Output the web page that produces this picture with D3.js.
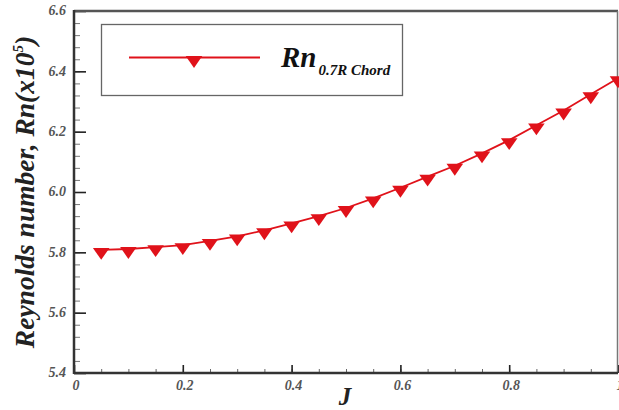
<!DOCTYPE html>
<html>
<head>
<meta charset="utf-8">
<script src="https://cdn.jsdelivr.net/npm/d3@7"></script>
<style>
  body { margin: 0; background: #fff; }
</style>
</head>
<body>
<div id="svgContainer"></div>
<script>
// advance ratio J and Reynolds number at 0.7R chord (x10^5)
var advanceRatio = [0.05, 0.10, 0.15, 0.20, 0.25, 0.30, 0.35, 0.40, 0.45, 0.50,
                    0.55, 0.60, 0.65, 0.70, 0.75, 0.80, 0.85, 0.90, 0.95, 1.00];
var reynolds = [5.808, 5.811, 5.817, 5.824, 5.838, 5.853, 5.873, 5.896, 5.920, 5.947,
                5.979, 6.014, 6.051, 6.087, 6.128, 6.172, 6.221, 6.270, 6.324, 6.377];
var xTicks = [0, 0.2, 0.4, 0.6, 0.8, 1];
var xTickLabels = ["0", "0.2", "0.4", "0.6", "0.8", "1"];
var yTicks = [5.4, 5.6, 5.8, 6.0, 6.2, 6.4, 6.6];
var yTickLabels = ["5.4", "5.6", "5.8", "6.0", "6.2", "6.4", "6.6"];

var width = 619;
var height = 410;
var margin = {left: 74, top: 11, right: 1, bottom: 37};
var serif = "'Liberation Serif', 'Times New Roman', Times, serif";

var svg = d3.select("#svgContainer")
  .append("svg").attr("width", width).attr("height", height)
  .attr("font-family", serif).attr("font-style", "italic").attr("font-weight", "bold");

var x = d3.scaleLinear().domain([0, 1]).range([margin.left, width - margin.right]);
var y = d3.scaleLinear().domain([5.4, 6.6]).range([height - margin.bottom, margin.top]);

var red = "#e0121a";

// minor ticks (inward)
var xMinor = d3.range(0, 1.0001, 0.05);
var yMinor = d3.range(5.4, 6.6001, 0.04);

svg.append("g")
  .attr("transform", "translate(0," + y(5.4) + ")")
  .call(d3.axisTop(x).tickValues(xMinor).tickSize(4).tickFormat(""))
  .call(function(g) { g.select(".domain").remove(); g.selectAll("line").attr("stroke", "#666").attr("stroke-width", 1); });

svg.append("g")
  .attr("transform", "translate(" + x(0) + ",0)")
  .call(d3.axisRight(y).tickValues(yMinor).tickSize(6).tickFormat(""))
  .call(function(g) { g.select(".domain").remove(); g.selectAll("line").attr("stroke", "#777").attr("stroke-width", 1); });

// major ticks
svg.append("g")
  .attr("transform", "translate(0," + y(5.4) + ")")
  .call(d3.axisTop(x).tickValues(xTicks).tickSize(8).tickFormat(""))
  .call(function(g) { g.select(".domain").remove(); g.selectAll("line").attr("stroke", "#222").attr("stroke-width", 1.6); });

svg.append("g")
  .attr("transform", "translate(" + x(0) + ",0)")
  .call(d3.axisRight(y).tickValues(yTicks).tickSize(12).tickFormat(""))
  .call(function(g) { g.select(".domain").remove(); g.selectAll("line").attr("stroke", "#222").attr("stroke-width", 1.6); });

// frame
svg.append("line").attr("x1", x(0)).attr("x2", x(1)).attr("y1", y(6.6)).attr("y2", y(6.6))
  .attr("stroke", "#555").attr("stroke-width", 2.5);
svg.append("line").attr("x1", x(1) - 0.5).attr("x2", x(1) - 0.5).attr("y1", y(6.6)).attr("y2", y(5.4))
  .attr("stroke", "#777").attr("stroke-width", 1.5);
svg.append("line").attr("x1", x(0)).attr("x2", x(1)).attr("y1", y(5.4)).attr("y2", y(5.4))
  .attr("stroke", "#333").attr("stroke-width", 2.5);
svg.append("line").attr("x1", x(0)).attr("x2", x(0)).attr("y1", y(6.6) - 1).attr("y2", y(5.4) + 1)
  .attr("stroke", "#333").attr("stroke-width", 2.5);

// tick labels
svg.append("g").selectAll("text")
  .data(xTicks).join("text")
  .attr("x", function(d) { return x(d) + 2; })
  .attr("y", y(5.4) + 17)
  .attr("text-anchor", "middle")
  .attr("font-size", 14)
  .attr("fill", "#555")
  .text(function(d, i) { return xTickLabels[i]; });

svg.append("g").selectAll("text")
  .data(yTicks).join("text")
  .attr("x", x(0) - 8)
  .attr("y", function(d) { return y(d); })
  .attr("dy", "0.32em")
  .attr("text-anchor", "end")
  .attr("font-size", 14)
  .attr("fill", "#555")
  .text(function(d, i) { return yTickLabels[i]; });

// axis titles
svg.append("text")
  .attr("x", 345).attr("y", 405)
  .attr("text-anchor", "middle")
  .attr("font-size", 25)
  .attr("fill", "#222")
  .text("J");

var yTitle = svg.append("text")
  .attr("transform", "translate(34,192) rotate(-90)")
  .attr("text-anchor", "middle")
  .attr("font-size", 27.5)
  .attr("fill", "#222");
yTitle.append("tspan").text("Reynolds number, Rn(x10");
yTitle.append("tspan").attr("font-size", 15).attr("dy", -11).text("5");
yTitle.append("tspan").attr("dy", 11).text(")");

// series
var pts = advanceRatio.map(function(d, i) { return [d, reynolds[i]]; });

svg.append("path")
  .datum(pts)
  .attr("fill", "none")
  .attr("stroke", red)
  .attr("stroke-width", 1.8)
  .attr("d", d3.line().x(function(d) { return x(d[0]); }).y(function(d) { return y(d[1]); }));

var tri = d3.symbol().type(d3.symbolTriangle).size(90);

svg.append("g").selectAll("path")
  .data(pts).join("path")
  .attr("d", tri)
  .attr("fill", red)
  .attr("transform", function(d) { return "translate(" + x(d[0]) + "," + (y(d[1]) + 2) + ") rotate(180) scale(1.15,0.95)"; });

// legend
var legend = svg.append("g");
legend.append("rect")
  .attr("x", 101.5).attr("y", 24.5).attr("width", 301).attr("height", 71)
  .attr("fill", "#fff").attr("stroke", "#666").attr("stroke-width", 1.3);
legend.append("line")
  .attr("x1", 129).attr("x2", 260).attr("y1", 57.5).attr("y2", 57.5)
  .attr("stroke", red).attr("stroke-width", 1.8);
legend.append("path")
  .attr("d", tri)
  .attr("fill", red)
  .attr("transform", "translate(194,60) rotate(180) scale(1.15,0.95)");
var legText = legend.append("text")
  .attr("x", 281).attr("y", 67)
  .attr("fill", "#111");
legText.append("tspan").attr("font-size", 29).text("Rn");
legText.append("tspan").attr("font-size", 15).attr("dy", 8).attr("dx", 2).text("0.7R Chord");
</script>
</body>
</html>
